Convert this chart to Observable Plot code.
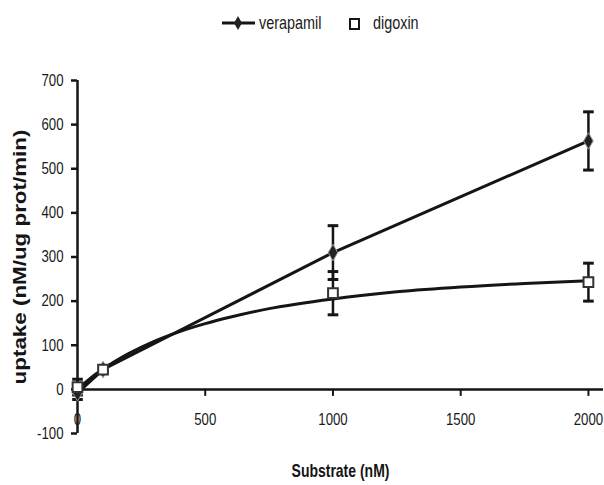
<!DOCTYPE html>
<html>
<head>
<meta charset="utf-8">
<script src="https://cdn.jsdelivr.net/npm/d3@7"></script>
<script src="https://cdn.jsdelivr.net/npm/@observablehq/plot@0.6"></script>
<style>
  body { margin: 0; background: #fff; font-family: "Liberation Sans", Arial, sans-serif; }
  svg { display: block; }
</style>
</head>
<body>
<div id="legend"></div>
<div id="chart"></div>
<script>
// Measured concentrations (nM)
const concentrations = [0, 100, 1000, 2000];
// Uptake values (nM/ug prot/min)
const verapamil = [-8, 45, 310, 563];
const verapamilErr = [15, 0, 61, 66];
const digoxin = [5, 45, 218, 243];
const digoxinErr = [18, 0, 49, 43];
// Fitted curve for digoxin
const digoxinFitX = [0, 50, 100, 200, 300, 400, 500, 600, 750, 1000, 1250, 1500, 1750, 2000];
const digoxinFitY = [0, 25, 46, 81, 109, 131, 149, 164, 183, 205, 221, 232, 240, 246];
// Axis ticks
const xTicks = [0, 500, 1000, 1500, 2000];
const yTicks = [-100, 0, 100, 200, 300, 400, 500, 600, 700];
const seriesNames = ["verapamil", "digoxin"];

const ver = concentrations.map((x, i) => ({x, y: verapamil[i], lo: verapamil[i] - verapamilErr[i], hi: verapamil[i] + verapamilErr[i], e: verapamilErr[i]}));
const dig = concentrations.map((x, i) => ({x, y: digoxin[i], lo: digoxin[i] - digoxinErr[i], hi: digoxin[i] + digoxinErr[i], e: digoxinErr[i]}));
const verE = ver.filter(d => d.e > 0);
const digE = dig.filter(d => d.e > 0);
const digFit = digoxinFitX.map((x, i) => ({x, y: digoxinFitY[i]}));

const capSymbol = {draw(ctx, size) { const w = Math.sqrt(size); ctx.moveTo(-w, 0); ctx.lineTo(w, 0); }};

const font = '"Liberation Sans", Arial, sans-serif';
const H = 450, mt = 45, mb = 52;
const pxPer100 = (H - mt - mb) / 8;
const ink = "#151515";

const chart = Plot.plot({
  width: 604,
  height: H,
  marginTop: mt,
  marginBottom: mb,
  marginLeft: 77,
  marginRight: 1,
  style: {fontFamily: font, fontSize: "16px", color: "#1a1a1a", background: "#fff"},
  x: {domain: [0, 2059]},
  y: {domain: [-100, 700]},
  marks: [
    Plot.ruleX([0], {stroke: ink, strokeWidth: 2.5}),
    Plot.ruleY([0], {stroke: ink, strokeWidth: 2.5}),
    Plot.axisY({ticks: yTicks, tickFormat: d => String(d), tickSize: 6, tickPadding: 8, label: null, fontSize: 16.5, stroke: ink, strokeWidth: 2.5}),
    Plot.axisX({ticks: xTicks, tickFormat: d => String(d), tickSize: 7, tickPadding: 17, label: null, fontSize: 16.5, dy: -pxPer100, stroke: ink, strokeWidth: 2}),
    Plot.text(["uptake (nM/ug prot/min)"], {frameAnchor: "left", textAnchor: "middle", rotate: -90, dx: -57, fontWeight: "bold", fontSize: 18, fill: ink}),
    Plot.text(["Substrate (nM)"], {frameAnchor: "bottom", dy: 43, fontWeight: "bold", fontSize: 17.5, fill: ink}),
    // lines
    Plot.line(ver, {x: "x", y: "y", stroke: ink, strokeWidth: 3}),
    Plot.line(digFit, {x: "x", y: "y", stroke: ink, strokeWidth: 3, curve: "monotone-x"}),
    // error bars
    Plot.ruleX(verE, {x: "x", y1: "lo", y2: "hi", stroke: ink, strokeWidth: 2.5}),
    Plot.ruleX(digE, {x: "x", y1: "lo", y2: "hi", stroke: ink, strokeWidth: 2.5}),
    Plot.dot(verE, {x: "x", y: "lo", symbol: capSymbol, r: 3, stroke: ink, strokeWidth: 3, fill: "none"}),
    Plot.dot(verE, {x: "x", y: "hi", symbol: capSymbol, r: 3, stroke: ink, strokeWidth: 3, fill: "none"}),
    Plot.dot(digE, {x: "x", y: "lo", symbol: capSymbol, r: 3, stroke: ink, strokeWidth: 3, fill: "none"}),
    Plot.dot(digE, {x: "x", y: "hi", symbol: capSymbol, r: 3, stroke: ink, strokeWidth: 3, fill: "none"}),
    // points
    Plot.dot(ver, {x: "x", y: "y", symbol: "diamond", r: 5, fill: "#222", stroke: "#999", strokeWidth: 1}),
    Plot.dot(dig, {x: "x", y: "y", symbol: "square", r: 5.5, fill: "#fff", stroke: "#333", strokeWidth: 2})
  ]
});
document.getElementById("chart").appendChild(chart);

// Legend (SVG above the chart)
const leg = d3.select("#legend").append("svg").attr("width", 604).attr("height", 35)
  .style("font-family", font);
leg.append("line").attr("x1", 222).attr("x2", 255).attr("y1", 23).attr("y2", 23).attr("stroke", ink).attr("stroke-width", 3);
leg.append("path").attr("transform", "translate(238,23)").attr("d", d3.symbol(d3.symbolDiamond, 55)()).attr("fill", "#222");
leg.append("text").attr("transform", "translate(259,23)").attr("dy", "0.35em").attr("font-size", 18).attr("fill", "#1a1a1a").text(seriesNames[0]);
leg.append("rect").attr("x", 350).attr("y", 19).attr("width", 9).attr("height", 10).attr("fill", "#fff").attr("stroke", ink).attr("stroke-width", 2);
leg.append("text").attr("transform", "translate(373,23)").attr("dy", "0.35em").attr("font-size", 18).attr("fill", "#1a1a1a").text(seriesNames[1]);

// The reference text is vertically stretched: narrow horizontal text, long rotated label.
// Scale each text along its own direction about its anchor point.
function fitText(root) {
  root.querySelectorAll("text").forEach(t => {
    const len = t.getComputedTextLength();
    if (!len) return;
    const sx = t.textContent.startsWith("uptake") ? 255 / len : 0.8;
    const xa = t.getAttribute("x");
    let x = 0;
    if (xa !== null && /^-?[\d.]+$/.test(xa)) { x = +xa; t.removeAttribute("x"); }
    const tr = t.getAttribute("transform") || "";
    t.setAttribute("transform", `${tr} translate(${x},0) scale(${sx},1)`);
  });
}
fitText(document.getElementById("chart"));
fitText(document.getElementById("legend"));
</script>
</body>
</html>
